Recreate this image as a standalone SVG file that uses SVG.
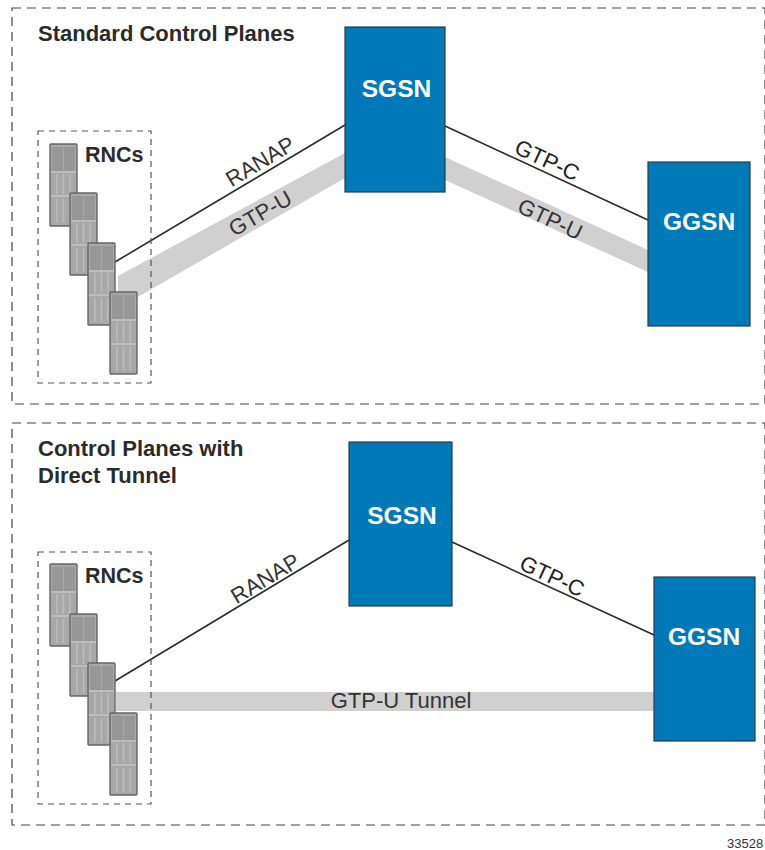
<svg xmlns="http://www.w3.org/2000/svg" xmlns:xlink="http://www.w3.org/1999/xlink" width="765" height="850" viewBox="0 0 765 850">
<style>
text{font-family:"Liberation Sans",Arial,sans-serif}
.frame{fill:none;stroke:#444;stroke-width:1.2;stroke-dasharray:9 6}
.rfr{fill:none;stroke:#555;stroke-width:1.2;stroke-dasharray:6 5}
.box{fill:#0079b8;stroke:#2b3a44;stroke-width:1.2}
.nl{font-size:24.500px;font-weight:bold;fill:#fff;text-anchor:middle}
.ttl{font-size:22px;font-weight:bold;fill:#2b2b2b}
.rn{font-size:21.500px;font-weight:bold;fill:#2b2b2b}
.lbl{font-size:22px;fill:#333;text-anchor:middle}
.dark{fill:#222}
.wire{stroke:#2b2b2b;stroke-width:1.6;fill:none}
.tun{fill:#d0d0d0;stroke:none}
</style>
<defs>
<g id="rack">
<rect x="0" y="0" width="27" height="82" rx="1" fill="#a8a8a8" stroke="#666" stroke-width="1.4"/>
<rect x="2" y="3" width="11" height="24" fill="#979797"/>
<rect x="14" y="3" width="11" height="24" fill="#979797"/>
<path d="M1 28H26M1 52H26" stroke="#c4c4c4" stroke-width="1.5"/>
<path d="M7 30V50M13.500 30V50M20 30V50M7 55V79M13.500 55V79M20 55V79" stroke="#bcbcbc" stroke-width="1.5"/>
</g>
</defs>
<g id="connectors">
<polygon class="tun" points="345,153 345,178 136,298 118,292 118,276"/>
<polygon class="tun" points="445,157 648,250 648,272 445,180"/>
<rect class="tun" x="116" y="692" width="538" height="19"/>
<path class="wire" d="M115 262L345 125M445 126L648 220M115 681L349 540M452 542L654 635"/>
</g>
<g id="frame-standard">
<rect class="frame" x="12" y="8" width="753" height="396"/>
<text class="ttl" x="38" y="41">Standard Control Planes</text>
</g>
<g id="frame-direct">
<rect class="frame" x="12" y="423" width="753" height="402"/>
<text class="ttl" x="38" y="456">Control Planes with</text>
<text class="ttl" x="38" y="483">Direct Tunnel</text>
</g>
<g id="rncs-top">
<rect class="rfr" x="38" y="131" width="113" height="252"/>
<use xlink:href="#rack" href="#rack" x="50" y="144"/>
<use xlink:href="#rack" href="#rack" x="70" y="193"/>
<use xlink:href="#rack" href="#rack" x="88" y="243"/>
<use xlink:href="#rack" href="#rack" x="110" y="292"/>
<text class="rn" x="85" y="162">RNCs</text>
</g>
<g id="rncs-bottom">
<rect class="rfr" x="38" y="552" width="113" height="252"/>
<use xlink:href="#rack" href="#rack" x="50" y="564"/>
<use xlink:href="#rack" href="#rack" x="70" y="614"/>
<use xlink:href="#rack" href="#rack" x="88" y="663"/>
<use xlink:href="#rack" href="#rack" x="110" y="713"/>
<text class="rn" x="85" y="583">RNCs</text>
</g>
<g id="sgsn-top"><rect class="box" x="345" y="27" width="100" height="165"/><text class="nl" x="396.500" y="97">SGSN</text></g>
<g id="ggsn-top"><rect class="box" x="648" y="162" width="102" height="164"/><text class="nl" x="699" y="230">GGSN</text></g>
<g id="sgsn-bottom"><rect class="box" x="349" y="442" width="103" height="164"/><text class="nl" x="402" y="524">SGSN</text></g>
<g id="ggsn-bottom"><rect class="box" x="654" y="577" width="101" height="164"/><text class="nl" x="704" y="645">GGSN</text></g>
<g id="labels">
<text class="lbl" transform="translate(264 168) rotate(-31)">RANAP</text>
<text class="lbl" transform="translate(264 220) rotate(-30)">GTP-U</text>
<text class="lbl dark" transform="translate(544 167) rotate(25)">GTP-C</text>
<text class="lbl" transform="translate(547 226) rotate(25)">GTP-U</text>
<text class="lbl" transform="translate(269 585) rotate(-31)">RANAP</text>
<text class="lbl dark" transform="translate(549 583) rotate(25)">GTP-C</text>
<text class="lbl" x="401" y="708">GTP-U Tunnel</text>
<text x="727" y="848" font-size="13" fill="#333">33528</text>
</g>
</svg>
